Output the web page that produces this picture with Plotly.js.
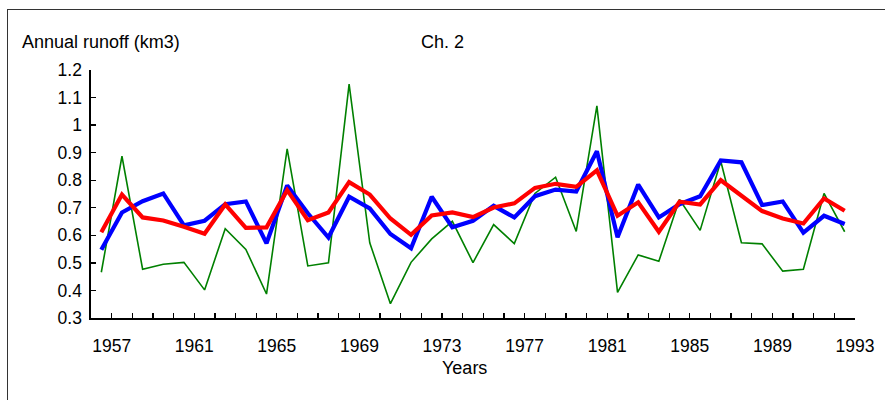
<!DOCTYPE html>
<html>
<head>
<meta charset="utf-8">
<script src="https://cdn.plot.ly/plotly-3.0.1.min.js"></script>
<style>
html, body { margin:0; padding:0; background:#fff; overflow:hidden; }
#wrap { position:relative; width:885px; height:400px; }
#chart { position:absolute; left:0; top:0; width:885px; height:400px; }
#frame { position:absolute; left:7px; top:9px; width:900px; height:420px; border:1px solid #333; pointer-events:none; }
</style>
</head>
<body>
<div id="wrap"><div id="chart"></div><div id="frame"></div></div>
<script>
// Categories: hydrological years, one point per year (placed between year ticks)
const startYear = 1956;
const green = [0.466,0.887,0.477,0.495,0.502,0.402,0.624,0.549,0.387,0.914,
               0.489,0.500,1.149,0.573,0.352,0.502,0.587,0.651,0.501,0.639,
               0.570,0.752,0.811,0.614,1.070,0.393,0.529,0.506,0.730,0.618,
               0.869,0.573,0.569,0.470,0.477,0.752,0.613];
const blue  = [0.548,0.683,0.724,0.752,0.636,0.653,0.713,0.723,0.571,0.781,
               0.680,0.592,0.740,0.698,0.605,0.553,0.740,0.629,0.653,0.707,
               0.665,0.742,0.766,0.759,0.905,0.593,0.784,0.665,0.713,0.742,
               0.872,0.865,0.710,0.723,0.610,0.671,0.641];
const red   = [0.611,0.748,0.665,0.654,0.631,0.606,0.712,0.627,0.629,0.764,
               0.655,0.683,0.793,0.748,0.661,0.602,0.672,0.683,0.666,0.701,
               0.716,0.772,0.787,0.776,0.836,0.671,0.720,0.613,0.722,0.712,
               0.800,0.746,0.688,0.661,0.643,0.734,0.689];
const yTicks = [0.3,0.4,0.5,0.6,0.7,0.8,0.9,1.0,1.1,1.2];
const yTickText = ['0.3','0.4','0.5','0.6','0.7','0.8','0.9','1','1.1','1.2'];
const labelYears = [1957,1961,1965,1969,1973,1977,1981,1985,1989,1993];

const xs = green.map((_, i) => startYear + 0.5 + i);
const endYear = startYear + green.length;
const xTickVals = [], xTickText = [];
for (let y = startYear; y <= endYear; y++) {
  xTickVals.push(y);
  xTickText.push(labelYears.includes(y) ? String(y) : '');
}

const font = {family:'Liberation Sans, Arial, sans-serif', size:17.5, color:'#000'};
const tfont = {family:'Liberation Sans, Arial, sans-serif', size:18, color:'#000'};
const traces = [
  {x:xs, y:green, type:'scatter', mode:'lines', line:{color:'#008000', width:1.6}, hoverinfo:'skip'},
  {x:xs, y:blue,  type:'scatter', mode:'lines', line:{color:'#0000FF', width:4.2}, hoverinfo:'skip'},
  {x:xs, y:red,   type:'scatter', mode:'lines', line:{color:'#FF0000', width:4.2}, hoverinfo:'skip'}
];
const L = 91, R = 30, T = 70, B = 82;
const W = 885 - L - R, H = 400 - T - B;
const px = p => (p - L) / W;
const py = p => (400 - B - p) / H;
const layout = {
  width:885, height:400,
  margin:{l:L, r:R, t:T, b:B, pad:0},
  paper_bgcolor:'#fff', plot_bgcolor:'#fff',
  showlegend:false,
  font:font,
  xaxis:{range:[startYear, endYear], tickmode:'array', tickvals:xTickVals, ticktext:xTickText,
         ticks:'inside', ticklen:5, tickwidth:1.3, tickcolor:'#000',
         showline:true, linecolor:'#000', linewidth:1.6, showgrid:false, zeroline:false,
         ticklabelstandoff:11, tickfont:font, fixedrange:true},
  yaxis:{range:[0.3, 1.2], tickmode:'array', tickvals:yTicks, ticktext:yTickText,
         ticks:'inside', ticklen:5, tickwidth:1.3, tickcolor:'#000',
         showline:true, linecolor:'#000', linewidth:1.6, showgrid:false, zeroline:false,
         ticklabelstandoff:4, tickfont:font, fixedrange:true},
  annotations:[
    {text:'Annual runoff (km3)', xref:'paper', yref:'paper', x:px(20), y:py(42), xanchor:'left', yanchor:'middle', showarrow:false, font:tfont},
    {text:'Ch. 2', xref:'paper', yref:'paper', x:px(442), y:py(42), xanchor:'center', yanchor:'middle', showarrow:false, font:tfont},
    {text:'Years', xref:'paper', yref:'paper', x:px(464.5), y:py(368), xanchor:'center', yanchor:'middle', showarrow:false, font:tfont}
  ]
};
Plotly.newPlot('chart', traces, layout, {staticPlot:true, displayModeBar:false});
</script>
</body>
</html>
